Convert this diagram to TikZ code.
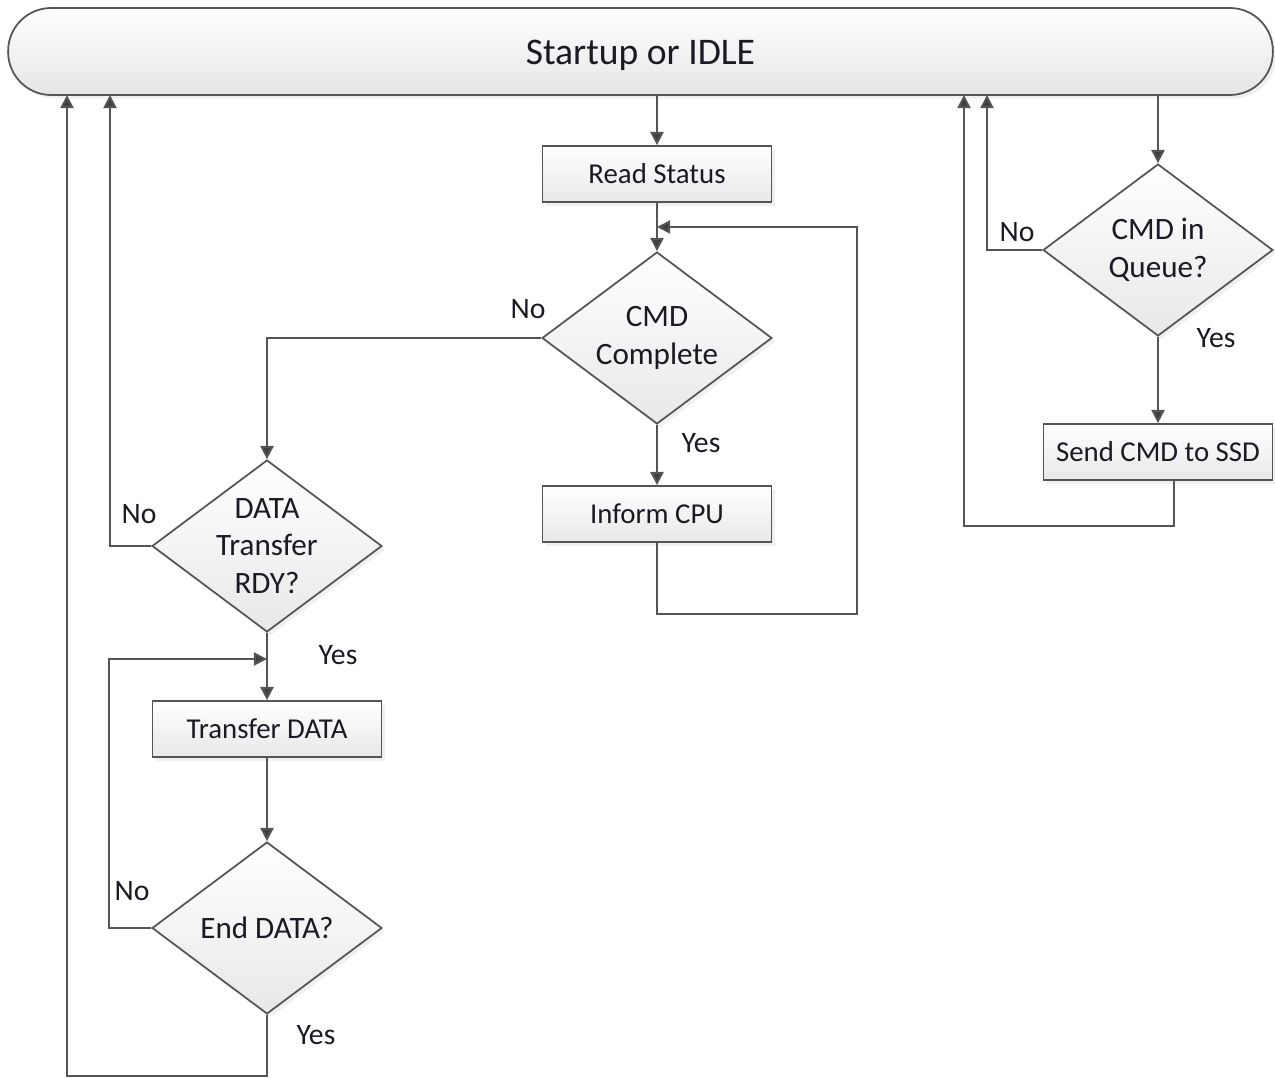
\documentclass[tikz,border=0pt]{standalone}
\usepackage{fontspec}
\setmainfont{Carlito}
\usetikzlibrary{arrows.meta,shapes.geometric,shadows}

\definecolor{linegray}{HTML}{555555}
\definecolor{tipgray}{HTML}{404040}
\definecolor{txt}{HTML}{1A1A24}

\tikzset{
    flow/.style={draw=linegray, line width=1.1pt, -{Triangle[length=7.5pt,width=7.5pt,fill=tipgray]}},
    procbox/.style={rectangle, draw=linegray, line width=1pt, top color=white, bottom color=black!9,
        minimum width=4.58cm, minimum height=1.12cm, text=txt, font=\fontsize{16.4}{19.5}\selectfont,
        drop shadow={opacity=0.12, shadow xshift=2pt, shadow yshift=-2pt}},
    decision/.style={diamond, draw=linegray, line width=1pt, top color=white, bottom color=black!9,
        minimum width=4.6cm, minimum height=3.44cm, inner sep=0pt,
        drop shadow={opacity=0.12, shadow xshift=2pt, shadow yshift=-2pt}},
    dtext/.style={align=center, text=txt, font=\fontsize{17.7}{21.5}\selectfont},
    answer/.style={text=txt, font=\fontsize{16.9}{20}\selectfont},
}

\begin{document}
\begin{tikzpicture}[x=0.02cm, y=-0.02cm]
    \useasboundingbox (0,0) rectangle (1275,1078);

    % state bar
    \node[rectangle, rounded corners=0.86cm, draw=linegray, line width=1pt, top color=white, bottom color=black!10,
        minimum width=25.3cm, minimum height=1.74cm,
        drop shadow={opacity=0.12, shadow xshift=2pt, shadow yshift=-2pt},
        label={[yshift=-2pt, text=txt, font=\fontsize{21.4}{25}\selectfont]center:Startup or IDLE}]
        (idle) at (640.5,51.5) {};
    \coordinate (r1) at (67,95);
    \coordinate (r2) at (110,95);
    \coordinate (r3) at (964,95);
    \coordinate (r4) at (987,95);

    % middle column
    \node[procbox] (rs) at (657,174) {Read Status};
    \node[decision, label={[dtext]center:CMD\\Complete}] (cc) at (657,338) {};
    \node[procbox] (cpu) at (657,514) {Inform CPU};
    \coordinate (loopin) at (657,227);

    % left column
    \node[decision, label={[dtext]center:DATA\\Transfer\\RDY?}] (dt) at (267,546) {};
    \node[procbox] (td) at (267,729) {Transfer DATA};
    \node[decision, label={[dtext]center:End DATA?}] (ed) at (267,928) {};
    \coordinate (datain) at (267,659);

    % right column
    \node[decision, label={[dtext]center:CMD in\\Queue?}] (cq) at (1158,250) {};
    \node[procbox] (send) at (1158,452) {Send CMD to SSD};

    % connectors
    \draw[flow] (rs.north |- idle.south) -- (rs.north);
    \draw[flow] (rs) -- (cc);
    \draw[flow] (cc.south) -- (cpu.north);
    \draw[flow] (cpu.south) -- ++(0,71) -- ++(200,0) |- (loopin);
    \draw[flow] (cc.west) -| (dt.north);

    \draw[flow] (dt.west) -| (r2);
    \draw[flow] (dt.south) -- (td.north);
    \draw[flow] (td.south) -- (ed.north);
    \draw[flow] (ed.west) -- ++(-42,0) |- (datain);
    \draw[flow] (ed.south) -- ++(0,61) -| (r1);

    \draw[flow] (cq.north |- idle.south) -- (cq.north);
    \draw[flow] (cq.west) -| (r4);
    \draw[flow] (cq.south) -- (send.north);
    \draw[flow] ([xshift=0.32cm]send.south) -- ++(0,45) -| (r3);

    % answers
    \node[answer] (ccno) at (528,309) {No};
    \node[answer] (ccyes) at (701,443) {Yes};
    \node[answer] (dtno) at (139,514) {No};
    \node[answer] (dtyes) at (338,655) {Yes};
    \node[answer] (edno) at (132,891) {No};
    \node[answer] (edyes) at (316,1035) {Yes};
    \node[answer] (cqno) at (1017,232) {No};
    \node[answer] (cqyes) at (1216,338) {Yes};
\end{tikzpicture}
\end{document}
